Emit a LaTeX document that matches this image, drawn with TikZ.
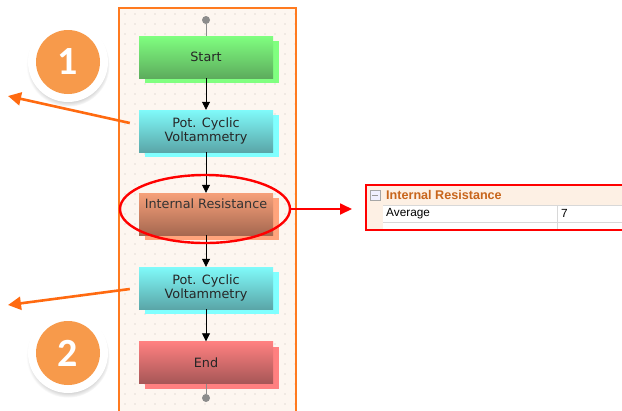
\documentclass[tikz,border=0pt]{standalone}
\usepackage{fontspec}
\setmainfont{DejaVu Sans}
\newfontfamily\arialf{Liberation Sans}
\newfontfamily\calf{Carlito}
\usetikzlibrary{shadows,arrows.meta,shapes.geometric}
\definecolor{panelbg}{HTML}{FDF6F0}
\definecolor{panelline}{HTML}{FF7A1F}
\definecolor{dotc}{HTML}{C8C0B8}
\definecolor{orangearr}{HTML}{FF6A10}
\definecolor{badge}{HTML}{F79A4B}
\definecolor{propcream}{HTML}{FDF0E4}
\definecolor{proptxt}{HTML}{C8651B}
\definecolor{gridl}{HTML}{D8D8D8}
\begin{document}
\begin{tikzpicture}[x=1bp,y=-1bp,
  flowbox/.style={minimum width=134bp, minimum height=42bp, inner sep=0pt, align=center,
     font=\fontsize{12.8bp}{14bp}\selectfont, text=black!85},
  startbox/.style={flowbox, top color=green!50!white, bottom color={rgb,255:red,93;green,172;blue,93},
     general shadow={fill={rgb,255:red,128;green,255;blue,128}, shadow xshift=6bp, shadow yshift=-5bp}},
  cvbox/.style={flowbox, top color={rgb,255:red,128;green,250;blue,250}, bottom color={rgb,255:red,90;green,166;blue,168},
     general shadow={fill={rgb,255:red,128;green,255;blue,255}, shadow xshift=6bp, shadow yshift=-5bp}},
  irbox/.style={flowbox, top color={rgb,255:red,246;green,160;blue,122}, bottom color={rgb,255:red,166;green,104;blue,80},
     general shadow={fill={rgb,255:red,255;green,164;blue,124}, shadow xshift=6bp, shadow yshift=-5bp}},
  endbox/.style={flowbox, top color={rgb,255:red,255;green,128;blue,128}, bottom color={rgb,255:red,166;green,86;blue,86},
     general shadow={fill={rgb,255:red,255;green,128;blue,128}, shadow xshift=6bp, shadow yshift=-5bp}},
  flowarrow/.style={black, line width=0.8bp, -{Triangle[length=8bp,width=8bp]}},
  callout/.style={orangearr, line width=2.6bp, -{Triangle[length=13bp,width=13bp]}},
  termdot/.style={circle, fill=gray!90, minimum size=8bp, inner sep=0pt},
  badgering/.style={circle, fill=white, minimum size=80bp, inner sep=0pt,
     circular drop shadow={shadow xshift=0bp, shadow yshift=-3bp, opacity=0.4, shadow scale=1.04}},
  badgedisc/.style={circle, fill=badge, minimum size=64bp, inner sep=0pt, text=white,
     font=\calf\bfseries\fontsize{40bp}{40bp}\selectfont}
]
\useasboundingbox (0,0) rectangle (622,410);
% panel
\fill[panelbg] (119,8) rectangle (296,412);
\foreach \xx in {125,135,...,295} {
  \foreach \yy in {14,24,...,410} {
    \fill[dotc] (\xx,\yy) circle (0.55bp);
  }
}
\draw[panelline, line width=1.5bp] (119,414) -- (119,8) -- (296,8) -- (296,414);

% flow nodes
\node[termdot] (top) at (206,20) {};
\node[startbox] (start) at (206,57) {Start};
\node[cvbox] (cv1) at (206,131) {Pot. Cyclic\\Voltammetry};
\node[irbox] (ir) at (206,214) {};
\node[anchor=center, font=\fontsize{12.8bp}{14bp}\selectfont, text=black!80] (irtext) at (206,203.5) {Internal Resistance};
\node[cvbox] (cv2) at (206,288) {Pot. Cyclic\\Voltammetry};
\node[endbox] (end) at (206,362.5) {End};
\node[termdot] (bot) at (206,398) {};

\draw[gray!90, line width=0.8bp] (top) -- (start.north);
\draw[gray!90, line width=0.8bp] (end.south) -- (bot);
\draw[flowarrow] (start) -- (cv1);
\draw[flowarrow] (cv1) -- (ir);
\draw[flowarrow] (ir) -- (cv2);
\draw[flowarrow] (cv2) -- (end);

% red ellipse and arrow
\node[draw=red, line width=2.4bp, ellipse, minimum width=170bp, minimum height=68bp, inner sep=0pt] (ell) at (205,209) {};
\coordinate (proptip) at (352,209);
\draw[red, line width=1.8bp, -{Triangle[length=12bp,width=11bp]}] (ell.east) -- (proptip);

% property panel
\fill[white] (366,185) rectangle (624,230);
\fill[propcream] (366,185) rectangle (624,205);
\fill[propcream] (366,205) rectangle (383,230);
\draw[gridl, line width=0.8bp] (383,222) -- (624,222);
\draw[gridl, line width=0.8bp] (557,205) -- (557,230);
\draw[gridl, line width=0.6bp] (383,205) -- (624,205);
\node[draw=gray!70, fill=blue!6, minimum size=10bp, inner sep=0pt] (minusbox) at (375,195) {};
\draw[gray!80, line width=0.8bp] (minusbox.west) ++(2bp,0) -- ([xshift=-2bp]minusbox.east);
\node[anchor=west, text=proptxt, font=\arialf\bfseries\fontsize{12.6bp}{14bp}\selectfont, inner sep=0pt] (ptitle) at (386,195) {Internal Resistance};
\node[anchor=west, font=\arialf\fontsize{11.8bp}{13bp}\selectfont, inner sep=0pt] (pavg) at (386,213.5) {Average};
\node[anchor=west, font=\arialf\fontsize{11.8bp}{13bp}\selectfont, inner sep=0pt] (pval) at (561,213.5) {7};
\draw[red, line width=2.2bp] (624,185) -- (366,185) -- (366,230) -- (624,230);

% badges
\node[badgering] (ring1) at (68,62) {};
\node[badgedisc] (b1) at (68,62) {1};
\node[badgering] (ring2) at (68,353) {};
\node[badgedisc] (b2) at (68,353) {2};

% callout arrows
\coordinate (c1) at (8,96);
\coordinate (c2) at (8,305);
\draw[callout] ([xshift=-9bp,yshift=8bp]cv1.west) -- (c1);
\draw[callout] ([xshift=-9bp,yshift=-1bp]cv2.west) -- (c2);
\end{tikzpicture}
\end{document}
